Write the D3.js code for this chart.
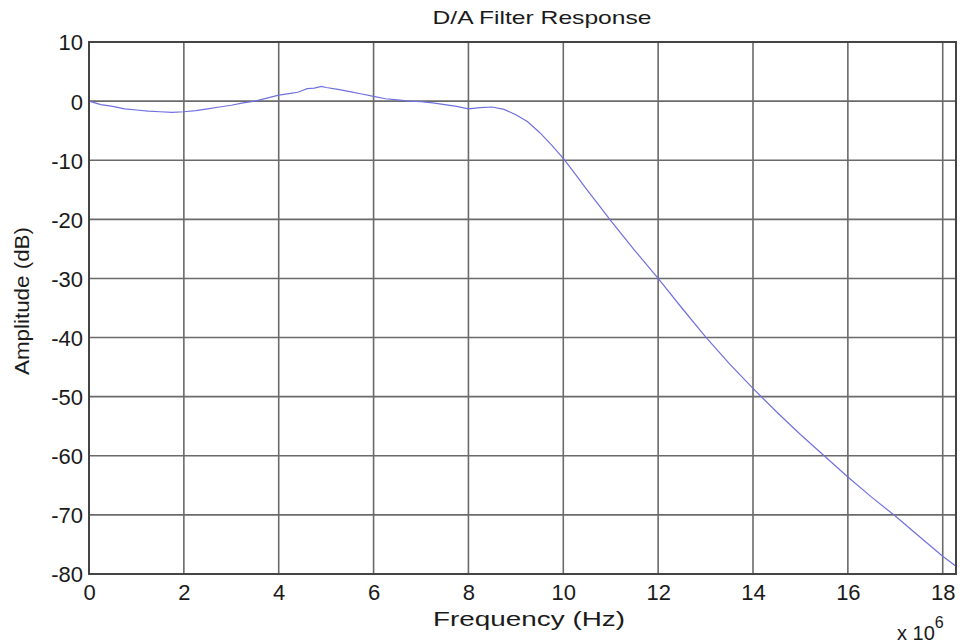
<!DOCTYPE html>
<meta charset="utf-8">
<style>
body { margin: 0; background: #fff; }
text { font-family: Arial, "Liberation Sans", sans-serif; fill: #1a1a1a; }
.grid line { stroke: #6a6a6a; stroke-width: 1.6px; }
.tick text { font-size: 22px; }
</style>
<script src="https://d3js.org/d3.v7.min.js"></script>
<body>
<svg id="chart" width="962" height="643"></svg>
<script>
// frequency in units of 1e6 Hz, amplitude in dB
var freq = [0, 0.25, 0.5, 0.75, 1.0, 1.25, 1.5, 1.75, 2.0, 2.25, 2.5, 2.75, 3.0, 3.25, 3.5, 3.75,
    4.0, 4.25, 4.4, 4.5, 4.6, 4.75, 4.9, 5.0, 5.25, 5.5, 5.75, 6.0, 6.25, 6.5, 6.75, 7.0, 7.25, 7.5,
    7.75, 8.0, 8.25, 8.5, 8.75, 9.0, 9.25, 9.5, 9.75, 10.0, 10.25, 10.5, 10.75, 11.0, 11.5,
    12.0, 12.5, 13.0, 13.5, 14.0, 14.5, 15.0, 15.5, 16.0, 16.5, 17.0, 17.5, 18.0, 18.28];
var amp = [0, -0.6, -0.9, -1.3, -1.5, -1.7, -1.8, -1.9, -1.8, -1.6, -1.3, -1.0, -0.7, -0.3, 0.0, 0.5,
    1.0, 1.3, 1.5, 1.8, 2.1, 2.2, 2.5, 2.3, 2.0, 1.6, 1.2, 0.8, 0.4, 0.2, 0.0, -0.1, -0.3, -0.6,
    -0.9, -1.3, -1.1, -1.0, -1.4, -2.3, -3.5, -5.3, -7.4, -9.7, -12.3, -15.0, -17.6, -20.2, -25.2,
    -30.0, -35.0, -39.9, -44.4, -48.6, -52.6, -56.4, -60.0, -63.6, -67.0, -70.2, -73.6, -77.0, -78.7];
var xTicks = [0, 2, 4, 6, 8, 10, 12, 14, 16, 18];
var yTicks = [10, 0, -10, -20, -30, -40, -50, -60, -70, -80];

var plotLeft = 89, plotTop = 42, plotRight = 956, plotBottom = 574;
var svg = d3.select("#chart");

var x = d3.scaleLinear().domain([0, 18.28]).range([plotLeft, plotRight]);
var y = d3.scaleLinear().domain([-80, 10]).range([plotBottom, plotTop]);

// grid
var grid = svg.append("g").attr("class", "grid");
grid.selectAll(".gx").data(xTicks.filter(function(d) { return d > 0; })).enter().append("line")
    .attr("x1", function(d) { return x(d); }).attr("x2", function(d) { return x(d); })
    .attr("y1", plotTop).attr("y2", plotBottom);
grid.selectAll(".gy").data(yTicks.filter(function(d) { return d > -80 && d < 10; })).enter().append("line")
    .attr("x1", plotLeft).attr("x2", plotRight)
    .attr("y1", function(d) { return y(d); }).attr("y2", function(d) { return y(d); });

// axes (plain hyphen for negatives, like the original)
var xAxis = svg.append("g").attr("transform", "translate(0," + plotBottom + ")")
    .call(d3.axisBottom(x).tickValues(xTicks).tickFormat(String).tickSize(0).tickPadding(10));
var yAxis = svg.append("g").attr("transform", "translate(" + plotLeft + ",0)")
    .call(d3.axisLeft(y).tickValues(yTicks).tickFormat(String).tickSize(0).tickPadding(6));
xAxis.select(".domain").remove();
yAxis.select(".domain").remove();
xAxis.selectAll("text").attr("fill", "#1a1a1a");
yAxis.selectAll("text").attr("fill", "#1a1a1a").attr("dy", "0.36em");

// curve
var line = d3.line().x(function(d, i) { return x(freq[i]); }).y(function(d) { return y(d); });
svg.append("path").datum(amp)
    .attr("d", line)
    .attr("fill", "none")
    .attr("stroke", "#7070e0")
    .attr("stroke-width", 1.2);

// box
svg.append("rect")
    .attr("x", plotLeft).attr("y", plotTop)
    .attr("width", plotRight - plotLeft).attr("height", plotBottom - plotTop)
    .attr("fill", "none").attr("stroke", "#444").attr("stroke-width", 2);

// labels
svg.append("text").attr("x", 542).attr("y", 24).attr("text-anchor", "middle")
    .attr("font-size", 19).attr("textLength", 219).attr("lengthAdjust", "spacingAndGlyphs")
    .text("D/A Filter Response");
svg.append("text").attr("x", 529).attr("y", 626).attr("text-anchor", "middle")
    .attr("font-size", 21).attr("textLength", 192).attr("lengthAdjust", "spacingAndGlyphs")
    .text("Frequency (Hz)");
svg.append("text").attr("transform", "translate(29,301) rotate(-90)").attr("text-anchor", "middle")
    .attr("font-size", 20).attr("textLength", 148).attr("lengthAdjust", "spacingAndGlyphs")
    .text("Amplitude (dB)");
var mult = svg.append("text").attr("x", 897).attr("y", 640).attr("font-size", 20);
mult.append("tspan").text("x 10");
mult.append("tspan").attr("dy", -12).attr("font-size", 16).text("6");
</script>
</body>
